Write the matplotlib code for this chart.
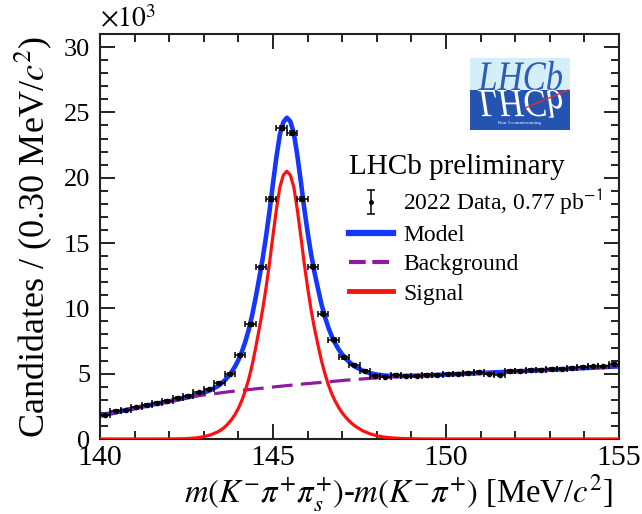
import numpy as np
import matplotlib
matplotlib.use("Agg")
import matplotlib.pyplot as plt
from matplotlib.ticker import MultipleLocator
from matplotlib.lines import Line2D
from matplotlib.textpath import TextPath
from matplotlib.patches import PathPatch, Rectangle
from matplotlib.font_manager import FontProperties
from matplotlib.transforms import Affine2D

# ---------------- data (in units of 10^3 candidates) ----------------
bin_width = 0.30
bin_centres = np.linspace(140.15, 154.85, 50)
counts = [1.83, 2.16, 2.21, 2.42, 2.60, 2.77, 2.92, 3.15, 3.28, 3.56,
          3.79, 4.28, 4.98, 6.41, 8.78, 13.13, 18.37, 23.84, 23.46, 18.37,
          13.18, 9.60, 7.61, 6.24, 5.70, 5.21, 4.86, 4.78, 4.88, 4.83,
          4.83, 4.88, 4.93, 4.98, 4.98, 5.04, 5.14, 5.01, 4.93, 5.22,
          5.24, 5.29, 5.29, 5.35, 5.35, 5.45, 5.50, 5.55, 5.55, 5.75]

curve_x = [140.0, 140.5, 141.0, 141.5, 142.0, 142.4, 142.6, 142.8, 143.0, 143.2,
           143.4, 143.5, 143.6, 143.7, 143.8, 143.9, 144.0, 144.1, 144.2, 144.3,
           144.4, 144.5, 144.6, 144.7, 144.8, 144.9, 145.0, 145.1, 145.2, 145.3,
           145.4, 145.5, 145.6, 145.7, 145.8, 145.9, 146.0, 146.1, 146.2, 146.3,
           146.4, 146.5, 146.6, 146.7, 146.8, 146.9, 147.0, 147.1, 147.2, 147.3,
           147.4, 147.6, 147.8, 148.0, 148.2, 148.4, 148.8, 149.4, 150.0, 151.0,
           152.0, 153.0, 154.0, 155.0]
signal_y = [0.0, 0.0, 0.0, 0.0, 0.004, 0.02, 0.045, 0.09, 0.18, 0.32,
            0.54, 0.70, 0.90, 1.16, 1.48, 1.87, 2.35, 2.95, 3.70, 4.60,
            5.70, 7.00, 8.40, 9.90, 11.6, 13.5, 15.6, 17.6, 19.3, 20.2,
            20.5, 20.2, 19.3, 17.6, 15.6, 13.5, 11.6, 9.90, 8.45, 7.20,
            6.00, 5.00, 4.15, 3.45, 2.88, 2.40, 2.00, 1.67, 1.38, 1.14,
            0.94, 0.62, 0.40, 0.25, 0.15, 0.09, 0.03, 0.005, 0.0, 0.0,
            0.0, 0.0, 0.0, 0.0]
background_y = [1.78, 2.07, 2.36, 2.63, 2.88, 3.10, 3.20, 3.29, 3.37, 3.44,
                3.50, 3.54, 3.57, 3.61, 3.64, 3.67, 3.70, 3.73, 3.75, 3.78,
                3.81, 3.84, 3.87, 3.89, 3.92, 3.95, 3.98, 4.01, 4.03, 4.06,
                4.09, 4.11, 4.14, 4.16, 4.19, 4.22, 4.24, 4.26, 4.29, 4.31,
                4.33, 4.36, 4.38, 4.40, 4.43, 4.45, 4.475, 4.50, 4.52, 4.54,
                4.56, 4.60, 4.64, 4.68, 4.71, 4.74, 4.79, 4.86, 4.93, 5.05,
                5.17, 5.30, 5.43, 5.56]

x_ticks = [140, 145, 150, 155]
y_ticks = [0, 5, 10, 15, 20, 25, 30]

# ---------------- style ----------------
plt.rcParams['font.family'] = ['Liberation Serif', 'DejaVu Serif']
plt.rcParams['mathtext.fontset'] = 'stix'

counts_arr = np.array(counts)
yerr = np.sqrt(counts_arr * 1000.0) / 1000.0
model_y = np.array(signal_y) + np.array(background_y)

fig = plt.figure(figsize=(6.42, 5.14), dpi=100)
ax = fig.add_axes([100/642, 1-439/514, 519/642, 405/514])

c_model = '#1436ff'
c_bkg = '#8e1b9f'
c_sig = '#ff1010'

ax.plot(curve_x, model_y, color=c_model, lw=3.3, zorder=2)
ax.plot(curve_x, background_y, color=c_bkg, lw=2.3, dashes=(6.5, 2.6), zorder=3)
ax.plot(curve_x, signal_y, color=c_sig, lw=2.3, zorder=4)
ax.errorbar(bin_centres, counts_arr, xerr=bin_width/2, yerr=yerr, fmt='o',
            ms=3, color='k', elinewidth=1.1, capsize=2, capthick=1.1, zorder=5)

ax.set_xlim(140, 155)
ax.set_ylim(0, 31)
ax.set_xticks(x_ticks)
ax.set_yticks(y_ticks)
ax.xaxis.set_minor_locator(MultipleLocator(1))
ax.yaxis.set_minor_locator(MultipleLocator(1))
ax.tick_params(which='both', direction='in', top=True, right=True, width=1.4, colors='#222222')
ax.tick_params(which='major', length=11)
ax.tick_params(which='minor', length=6)
ax.tick_params(axis='x', labelsize=21.5, pad=4, labelcolor='black')
ax.tick_params(axis='y', labelsize=19, pad=7, labelcolor='black')
for s in ax.spines.values():
    s.set_linewidth(1.5)
    s.set_color('#222222')

fig.text(100/642, 1-33/514, r'$\times10^{3}$', fontsize=20, ha='left', va='bottom')

ax.set_ylabel('Candidates / (0.30 MeV/$c^{2}$)', fontsize=26)
ax.yaxis.set_label_coords(-0.088, 0.5)
ax.set_xlabel(r'$m(K^{-}\pi^{+}\pi^{+}_{s})$-$m(K^{-}\pi^{+})$ [MeV/$c^{2}$]', fontsize=23.5, ha='right')
ax.xaxis.set_label_coords(0.9865, -0.082)

# ---------------- legend ----------------
h_data = ax.errorbar([np.nan], [np.nan], yerr=[1.0], fmt='o', ms=2.5, color='k',
                     elinewidth=1.1, capsize=3, capthick=1.1)
h_model = Line2D([], [], color=c_model, lw=4.5)
h_bkg = Line2D([], [], color=c_bkg, lw=3, dashes=(4.0, 1.6))
h_sig = Line2D([], [], color=c_sig, lw=3.5)
leg = ax.legend([h_data, h_model, h_bkg, h_sig],
                ['2022 Data, 0.77 pb$^{\\mathsf{-1}}$', 'Model', 'Background', 'Signal'],
                title='LHCb preliminary', loc='upper left',
                bbox_to_anchor=(349/642, 1-154/514), bbox_transform=fig.transFigure,
                frameon=False, fontsize=17, title_fontsize=21, alignment='left',
                handlelength=1.85, handletextpad=0.45, labelspacing=0.32,
                borderpad=0, borderaxespad=0)

# ---------------- LHCb logo ----------------
lw_px, lh_px = 100, 72
ax_logo = fig.add_axes([470/642, 1-130/514, lw_px/642, lh_px/514])
ax_logo.set_xlim(0, lw_px)
ax_logo.set_ylim(0, lh_px)
ax_logo.axis('off')
ax_logo.add_patch(Rectangle((0, 0), lw_px, 40, color='#2453b0', lw=0))
ax_logo.add_patch(Rectangle((0, 40), lw_px, 32, color='#d4effa', lw=0))
fp = FontProperties(family='Liberation Serif', style='italic')
tp = TextPath((0, 0), 'LHCb', size=30, prop=fp)
ext = tp.get_extents()
sx = 84 / ext.width
sy = 28 / 20.0
t_up = Affine2D().translate(-ext.x0, 0).scale(sx, sy).translate(8, 40)
t_dn = Affine2D().translate(-ext.x0, 0).scale(sx, -sy * 0.95).translate(8, 40)
ax_logo.add_patch(PathPatch(t_up.transform_path(tp), color='#2c5cb8', lw=0))
ax_logo.add_patch(PathPatch(t_dn.transform_path(tp), color='white', lw=0))
ax_logo.plot([55, 98], [22, 40], color='#e03030', lw=1.0)
ax_logo.text(50, 7, 'Run 3 commissioning', fontsize=3.5, color='white', ha='center', va='center')

fig.savefig('out.png', dpi=100)
